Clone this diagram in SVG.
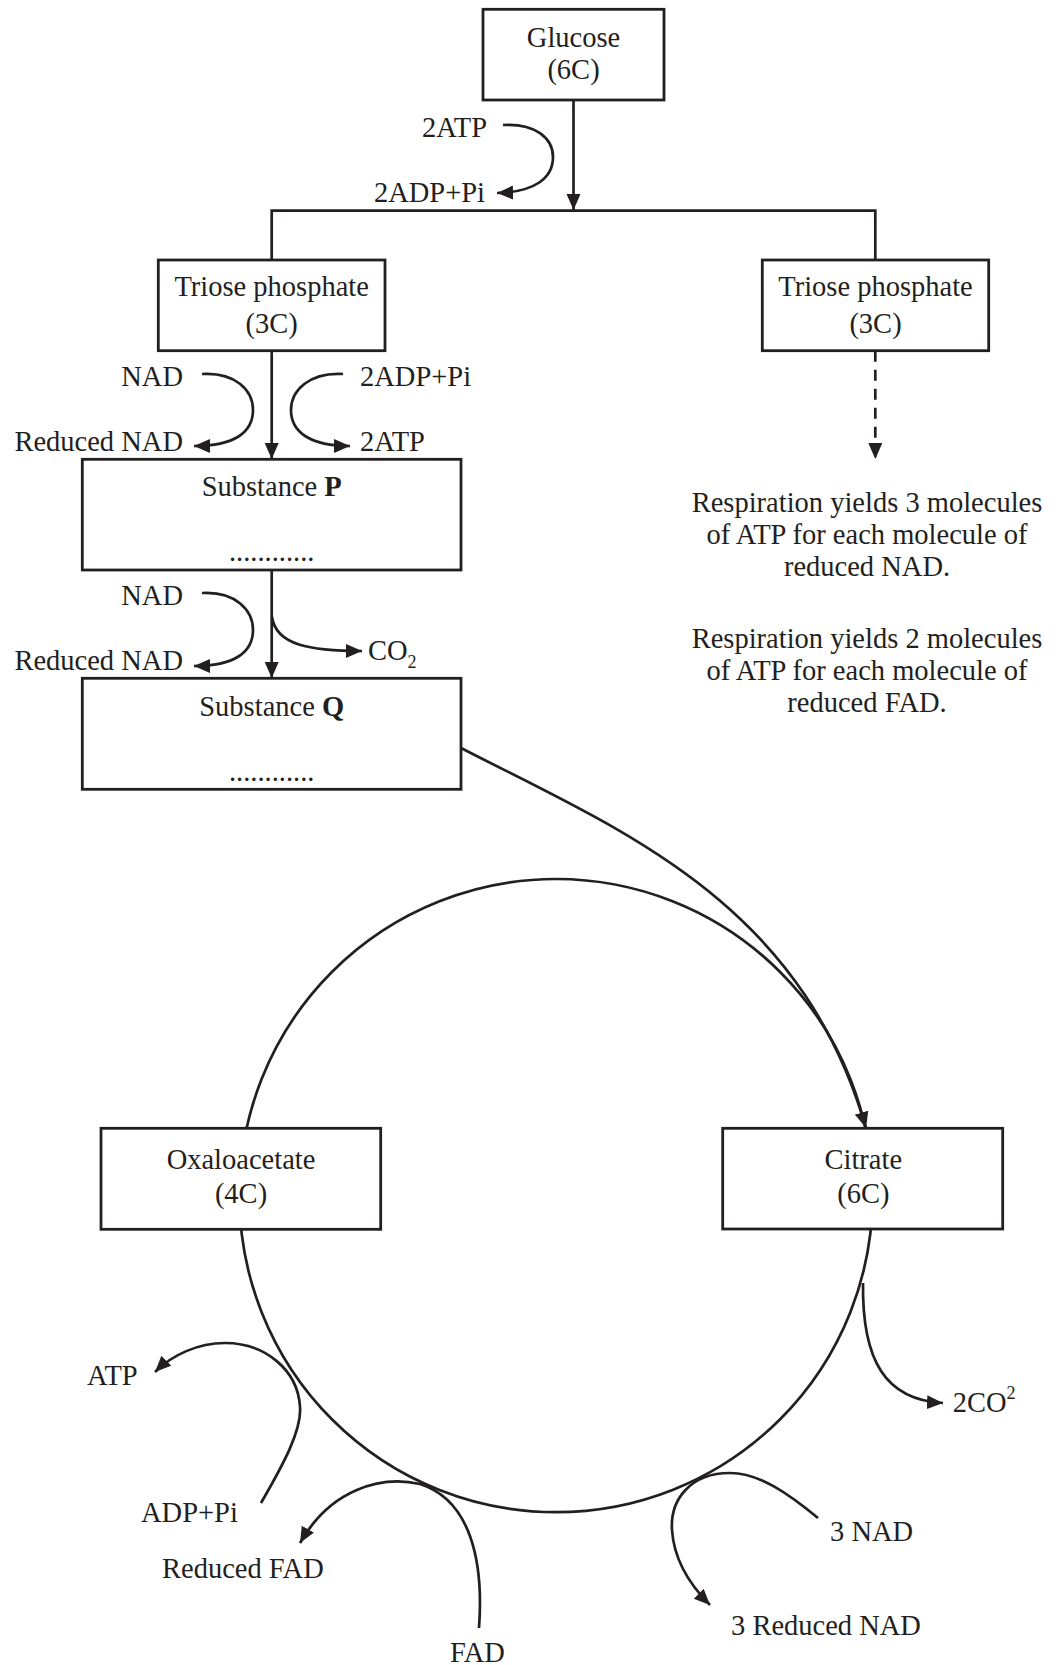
<svg xmlns="http://www.w3.org/2000/svg" width="1056" height="1665" viewBox="0 0 1056 1665">
<defs>
<marker id="ah" markerUnits="userSpaceOnUse" markerWidth="18" markerHeight="16" refX="16" refY="7" orient="auto">
<path d="M0,0 L16,7 L0,14 z" fill="#231f20"/>
</marker>
</defs>
<style>
text{font-family:"Liberation Serif","Times New Roman",serif;font-size:28.5px;fill:#231f20}
.c{text-anchor:middle}
.e{text-anchor:end}
.box{fill:#fff;stroke:#231f20;stroke-width:2.8}
.ln{fill:none;stroke:#231f20;stroke-width:2.7}
.ar{fill:none;stroke:#231f20;stroke-width:2.7;marker-end:url(#ah)}
.sub{font-size:18px}
</style>
<rect width="1056" height="1665" fill="#fff"/>

<g id="cycle-circle">
<circle cx="556" cy="1195.6" r="316.6" class="ln"/>
</g>

<g id="connectors">
<line x1="573.5" y1="100" x2="573.5" y2="210" class="ar"/>
<polyline points="271.7,260 271.7,210.7 875.3,210.7 875.3,260" class="ln"/>
<path d="M503,125 C535,123 553,138 553,157 C553,178 535,192 497,193" class="ar"/>
<line x1="271.7" y1="350.7" x2="271.7" y2="459" class="ar"/>
<path d="M202,374 C235,372 253,390 253,410 C253,432 235,446 194,446" class="ar"/>
<path d="M343,374 C310,372 291,390 291,410 C291,432 310,446 350,446" class="ar"/>
<line x1="875.3" y1="350.7" x2="875.3" y2="459" class="ar" stroke-width="3.2" stroke-dasharray="11 8"/>
<line x1="271.7" y1="570" x2="271.7" y2="678" class="ar"/>
<path d="M202,593 C235,591 253,610 253,630 C253,652 235,666 194,666" class="ar"/>
<path d="M272,617 C276,645 310,651 362,651" class="ar"/>
<path d="M461,748 C620,830 800,900 866,1128" class="ar"/>
<path d="M863,1283 C862,1360 885,1400 943,1403" class="ar"/>
<path d="M818,1518 C790,1495 760,1473 730,1473 C690,1473 670,1500 672,1530 C674,1560 690,1585 710,1605" class="ar"/>
<path d="M479,1628 C484,1560 470,1500 420,1484 C380,1475 330,1490 300,1543" class="ar"/>
<path d="M261,1503 C283,1465 302,1430 300,1407 C298,1370 265,1343 225,1343 C198,1343 172,1355 155,1372" class="ar"/>
</g>

<g id="glucose">
<rect x="483" y="9.3" width="181" height="90.7" class="box"/>
<text x="573.5" y="47" class="c">Glucose</text>
<text x="573.5" y="79" class="c">(6C)</text>
</g>

<g id="triose-left">
<rect x="158.3" y="260" width="226.7" height="90.7" class="box"/>
<text x="271.7" y="296" class="c">Triose phosphate</text>
<text x="271.7" y="332.7" class="c">(3C)</text>
</g>

<g id="triose-right">
<rect x="762.3" y="260" width="226.4" height="90.7" class="box"/>
<text x="875.5" y="296" class="c">Triose phosphate</text>
<text x="875.5" y="332.7" class="c">(3C)</text>
</g>

<g id="substance-p">
<rect x="82.3" y="459.3" width="378.7" height="110.7" class="box"/>
<text x="271.7" y="496" class="c">Substance <tspan font-weight="bold">P</tspan></text>
<text x="271.7" y="561" class="c">............</text>
</g>

<g id="substance-q">
<rect x="82.3" y="678.3" width="378.7" height="111" class="box"/>
<text x="271.7" y="716" class="c">Substance <tspan font-weight="bold">Q</tspan></text>
<text x="271.7" y="781" class="c">............</text>
</g>

<g id="oxaloacetate">
<rect x="101" y="1128.3" width="279.7" height="101" class="box"/>
<text x="241" y="1169.3" class="c">Oxaloacetate</text>
<text x="241" y="1203.3" class="c">(4C)</text>
</g>

<g id="citrate">
<rect x="722.7" y="1128.3" width="280" height="100.7" class="box"/>
<text x="863.3" y="1169.3" class="c">Citrate</text>
<text x="863.3" y="1203.3" class="c">(6C)</text>
</g>

<g id="labels">
<text x="487" y="137" class="e">2ATP</text>
<text x="485" y="202" class="e">2ADP+Pi</text>
<text x="183" y="386" class="e">NAD</text>
<text x="183" y="450.7" class="e">Reduced NAD</text>
<text x="360" y="386">2ADP+Pi</text>
<text x="360" y="450.7">2ATP</text>
<text x="183" y="605" class="e">NAD</text>
<text x="183" y="670" class="e">Reduced NAD</text>
<text x="368" y="660">CO<tspan class="sub" dy="8">2</tspan></text>
<text x="867" y="512" class="c">Respiration yields 3 molecules</text>
<text x="867" y="544" class="c">of ATP for each molecule of</text>
<text x="867" y="576" class="c">reduced NAD.</text>
<text x="867" y="648" class="c">Respiration yields 2 molecules</text>
<text x="867" y="680" class="c">of ATP for each molecule of</text>
<text x="867" y="712" class="c">reduced FAD.</text>
<text x="952.7" y="1411.7">2CO<tspan class="sub" dy="-13">2</tspan></text>
<text x="830" y="1541">3 NAD</text>
<text x="731" y="1635">3 Reduced NAD</text>
<text x="450" y="1662">FAD</text>
<text x="162" y="1578">Reduced FAD</text>
<text x="141" y="1522">ADP+Pi</text>
<text x="87" y="1385">ATP</text>
</g>
</svg>
